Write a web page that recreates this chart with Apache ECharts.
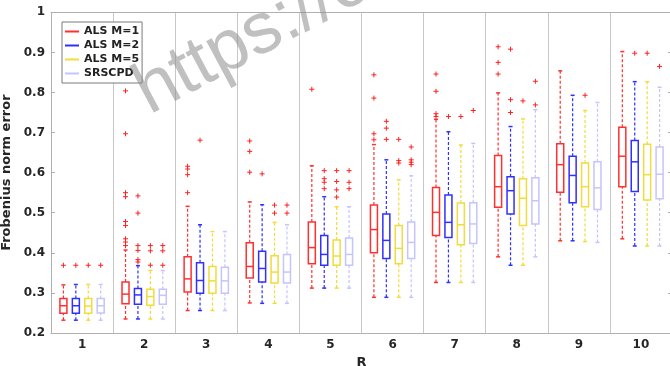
<!DOCTYPE html>
<html>
<head>
<meta charset="UTF-8">
<title>Frobenius norm error vs R</title>
<script src="https://cdn.jsdelivr.net/npm/echarts@6/dist/echarts.min.js"></script>
<style>
  html, body { margin: 0; padding: 0; background: #fff; }
  #chart { width: 670px; height: 366px; }
</style>
</head>
<body>
<div id="chart"></div>
<script>
var categories = ['1', '2', '3', '4', '5', '6', '7', '8', '9', '10'];
var methods = ['ALS M=1', 'ALS M=2', 'ALS M=5', 'SRSCPD'];

// [min, q1, median, q3, max] for each R
var alsM1 = [
  [0.232, 0.249, 0.268, 0.286, 0.320],
  [0.235, 0.273, 0.297, 0.327, 0.407],
  [0.256, 0.302, 0.335, 0.390, 0.516],
  [0.275, 0.337, 0.366, 0.425, 0.527],
  [0.312, 0.373, 0.413, 0.477, 0.617],
  [0.289, 0.400, 0.458, 0.519, 0.670],
  [0.326, 0.443, 0.501, 0.563, 0.733],
  [0.390, 0.514, 0.565, 0.643, 0.799],
  [0.430, 0.551, 0.620, 0.672, 0.854],
  [0.435, 0.565, 0.641, 0.713, 0.902]
];
var alsM2 = [
  [0.232, 0.249, 0.268, 0.286, 0.321],
  [0.235, 0.272, 0.295, 0.311, 0.368],
  [0.256, 0.299, 0.331, 0.375, 0.470],
  [0.274, 0.327, 0.361, 0.404, 0.520],
  [0.312, 0.369, 0.396, 0.443, 0.540],
  [0.289, 0.386, 0.431, 0.497, 0.632],
  [0.326, 0.438, 0.476, 0.544, 0.702],
  [0.369, 0.497, 0.555, 0.590, 0.715],
  [0.430, 0.525, 0.593, 0.641, 0.793],
  [0.417, 0.553, 0.627, 0.680, 0.827]
];
var alsM5 = [
  [0.232, 0.249, 0.267, 0.286, 0.321],
  [0.235, 0.269, 0.291, 0.309, 0.356],
  [0.256, 0.299, 0.330, 0.366, 0.453],
  [0.274, 0.325, 0.352, 0.393, 0.476],
  [0.312, 0.369, 0.392, 0.432, 0.515],
  [0.289, 0.373, 0.411, 0.468, 0.582],
  [0.326, 0.420, 0.470, 0.524, 0.669],
  [0.369, 0.468, 0.536, 0.585, 0.734],
  [0.428, 0.515, 0.565, 0.624, 0.755],
  [0.417, 0.532, 0.595, 0.671, 0.827]
];
var srscpd = [
  [0.232, 0.250, 0.268, 0.286, 0.321],
  [0.235, 0.272, 0.294, 0.309, 0.356],
  [0.256, 0.299, 0.330, 0.364, 0.453],
  [0.274, 0.325, 0.352, 0.396, 0.470],
  [0.312, 0.369, 0.396, 0.437, 0.515],
  [0.289, 0.386, 0.426, 0.477, 0.592],
  [0.326, 0.423, 0.472, 0.525, 0.673],
  [0.390, 0.472, 0.530, 0.587, 0.757],
  [0.426, 0.508, 0.562, 0.627, 0.775],
  [0.417, 0.535, 0.596, 0.664, 0.813]
];

// outliers: [R index, value]
var alsM1Out = [[0, 0.369], [1, 0.804], [1, 0.697], [1, 0.550], [1, 0.540], [1, 0.478], [1, 0.468],
  [1, 0.435], [1, 0.427], [1, 0.418], [2, 0.616], [2, 0.609], [2, 0.595], [2, 0.550],
  [3, 0.679], [3, 0.653], [3, 0.601], [4, 0.808], [5, 0.844], [5, 0.786], [5, 0.697], [5, 0.682],
  [6, 0.846], [6, 0.803], [6, 0.747], [6, 0.740], [7, 0.914], [7, 0.875], [7, 0.846]];
var alsM2Out = [[0, 0.369], [1, 0.542], [1, 0.499], [1, 0.418], [1, 0.406], [1, 0.383], [1, 0.377],
  [2, 0.681], [3, 0.597], [4, 0.605], [4, 0.585], [4, 0.576], [4, 0.560], [5, 0.728], [5, 0.711],
  [5, 0.683], [6, 0.740], [7, 0.908], [7, 0.782], [7, 0.750], [9, 0.898]];
var alsM5Out = [[0, 0.369], [1, 0.418], [1, 0.405], [1, 0.369], [3, 0.519], [3, 0.499], [4, 0.605],
  [4, 0.578], [4, 0.557], [4, 0.539], [5, 0.683], [5, 0.630], [5, 0.624], [6, 0.740], [7, 0.779],
  [8, 0.793], [9, 0.898]];
var srscpdOut = [[0, 0.369], [1, 0.418], [1, 0.405], [1, 0.369], [3, 0.519], [3, 0.499], [4, 0.605],
  [4, 0.576], [4, 0.560], [5, 0.664], [5, 0.632], [5, 0.626], [5, 0.620], [6, 0.755], [7, 0.828],
  [7, 0.769], [9, 0.865]];

var yTicks = [0.2, 1, 0.1]; // min, max, step

var colors = ['#ff3030', '#3030ff', '#f0dc3c', '#c4c4ff'];
var slots = [-1.5, -0.5, 0.5, 1.5];
var outColor = '#ff2020';
var axisColor = '#b0b0b0';
var font = 'DejaVu Sans';

function boxSeries(name, stats, idx) {
  return {
    name: name,
    type: 'custom',
    itemStyle: { color: colors[idx] },
    encode: { x: 0, y: [1, 2, 3, 4, 5] },
    data: stats.map(function (s, k) { return [k].concat(s); }),
    renderItem: function (params, api) {
      var band = api.size([1, 0])[0];
      var x = api.coord([api.value(0), 0])[0] + slots[idx] * band * 0.2;
      var y = [1, 2, 3, 4, 5].map(function (d) { return api.coord([0, api.value(d)])[1]; });
      var hw = 3.5, cw = 2;
      var dashed = { stroke: colors[idx], lineWidth: 1.2, lineDash: [3, 2] };
      var solid = { stroke: colors[idx], lineWidth: 1.5, fill: 'none' };
      return {
        type: 'group',
        children: [
          { type: 'line', shape: { x1: x, y1: y[0], x2: x, y2: y[1] }, style: dashed },
          { type: 'line', shape: { x1: x, y1: y[3], x2: x, y2: y[4] }, style: dashed },
          { type: 'line', shape: { x1: x - cw, y1: y[0], x2: x + cw, y2: y[0] }, style: solid },
          { type: 'line', shape: { x1: x - cw, y1: y[4], x2: x + cw, y2: y[4] }, style: solid },
          { type: 'rect', shape: { x: x - hw, y: y[3], width: 2 * hw, height: y[1] - y[3] }, style: solid },
          { type: 'line', shape: { x1: x - hw, y1: y[2], x2: x + hw, y2: y[2] }, style: solid }
        ]
      };
    }
  };
}

function outlierSeries(points, idx) {
  return {
    type: 'custom',
    silent: true,
    encode: { x: 0, y: 1 },
    data: points,
    renderItem: function (params, api) {
      var band = api.size([1, 0])[0];
      var p = api.coord([api.value(0), api.value(1)]);
      var x = p[0] + slots[idx] * band * 0.2, y = p[1], r = 2.5;
      var st = { stroke: outColor, lineWidth: 1 };
      return {
        type: 'group',
        children: [
          { type: 'line', shape: { x1: x - r, y1: y, x2: x + r, y2: y }, style: st },
          { type: 'line', shape: { x1: x, y1: y - r, x2: x, y2: y + r }, style: st }
        ]
      };
    }
  };
}

var labelStyle = { color: '#262626', fontWeight: 'bold', fontSize: 12, fontFamily: font };
var nameStyle = { color: '#262626', fontWeight: 'bold', fontSize: 13, fontFamily: font };

var chart = echarts.init(document.getElementById('chart'));
chart.setOption({
  animation: false,
  grid: { left: 51, top: 12.3, width: 621, bottom: 33, outerBoundsMode: 'none' },
  legend: {
    left: 62, top: 22, orient: 'vertical',
    data: methods,
    icon: 'rect', itemWidth: 14, itemHeight: 2, itemGap: 1,
    padding: [3, 3, 3, 3],
    borderColor: '#7a7a7a', borderWidth: 1, backgroundColor: '#fff',
    selectedMode: false,
    textStyle: { fontFamily: font, fontWeight: 'bold', fontSize: 11, color: '#222', lineHeight: 13 }
  },
  graphic: [{
    type: 'text', x: 157, y: 129, rotation: 0.49, silent: true, z: 100,
    style: {
      text: 'https://c', fontSize: 72, fontFamily: 'Liberation Sans',
      fill: 'rgba(140,140,140,0.55)', align: 'left', verticalAlign: 'bottom'
    }
  }],
  xAxis: [{
    type: 'category', data: categories, position: 'bottom',
    name: 'R', nameLocation: 'middle', nameGap: 20, nameTextStyle: nameStyle,
    axisLine: { lineStyle: { color: axisColor } },
    axisTick: { inside: true, alignWithLabel: true, length: 4, lineStyle: { color: axisColor } },
    axisLabel: Object.assign({ margin: 6 }, labelStyle),
    splitLine: { show: true, lineStyle: { color: '#c8c8c8' } }
  }, {
    type: 'category', data: categories, position: 'top',
    axisLine: { lineStyle: { color: axisColor } },
    axisTick: { inside: true, alignWithLabel: true, length: 4, lineStyle: { color: axisColor } },
    axisLabel: { show: false },
    splitLine: { show: false }
  }],
  yAxis: [{
    type: 'value', min: yTicks[0], max: yTicks[1], interval: yTicks[2],
    name: 'Frobenius norm error', nameLocation: 'middle', nameGap: 29, nameTextStyle: nameStyle,
    axisLine: { show: true, lineStyle: { color: axisColor } },
    axisTick: { show: true, inside: true, length: 4, lineStyle: { color: axisColor } },
    axisLabel: Object.assign({ margin: 6 }, labelStyle),
    splitLine: { show: false }
  }, {
    type: 'value', position: 'right', min: yTicks[0], max: yTicks[1], interval: yTicks[2],
    axisLine: { show: true, lineStyle: { color: axisColor } },
    axisTick: { show: true, inside: true, length: 4, lineStyle: { color: axisColor } },
    axisLabel: { show: false },
    splitLine: { show: false }
  }],
  series: [
    boxSeries(methods[0], alsM1, 0),
    boxSeries(methods[1], alsM2, 1),
    boxSeries(methods[2], alsM5, 2),
    boxSeries(methods[3], srscpd, 3),
    outlierSeries(alsM1Out, 0),
    outlierSeries(alsM2Out, 1),
    outlierSeries(alsM5Out, 2),
    outlierSeries(srscpdOut, 3)
  ]
});
</script>
</body>
</html>
